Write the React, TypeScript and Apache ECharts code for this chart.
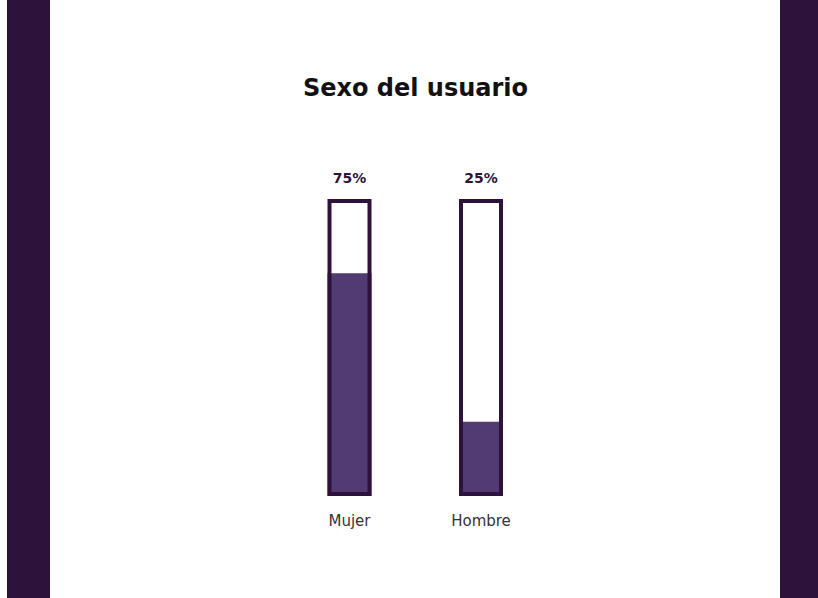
import React, { useEffect, useRef } from "react";
import * as echarts from "echarts";

const categories = ["Mujer", "Hombre"];
const values = [75, 25];
const totals = [100, 100];
const valueLabels = ["75%", "25%"];
const chartTitle = "Sexo del usuario";

const DARK = "#2d133b";
const FILL = "#523a72";

export default function App() {
  const ref = useRef<HTMLDivElement>(null);
  useEffect(() => {
    if (!ref.current) return;
    const chart = echarts.init(ref.current, null, { renderer: "svg" });
    chart.setOption({
      animation: false,
      backgroundColor: "#ffffff",
      graphic: [
        { type: "rect", shape: { x: 7, y: 0, width: 43, height: 598 }, style: { fill: DARK } },
        { type: "rect", shape: { x: 780, y: 0, width: 38, height: 598 }, style: { fill: DARK } },
        {
          type: "text",
          x: 415.5,
          y: 88,
          style: {
            text: chartTitle,
            align: "center",
            verticalAlign: "middle",
            fontFamily: "DejaVu Sans",
            fontWeight: "bold",
            fontSize: 24,
            fill: "#111111",
          },
        },
      ],
      grid: { left: 283.75, width: 263, top: 199, height: 297 },
      xAxis: {
        type: "category",
        data: categories,
        axisLine: { show: false },
        axisTick: { show: false },
        axisLabel: {
          margin: 17,
          fontFamily: "DejaVu Sans",
          fontSize: 15,
          color: "#333333",
        },
      },
      yAxis: {
        type: "value",
        min: 0,
        max: 100,
        show: false,
        splitLine: { show: false },
      },
      series: [
        {
          type: "bar",
          data: values,
          barWidth: 44,
          itemStyle: { color: FILL },
          z: 2,
        },
        {
          type: "bar",
          data: totals,
          barWidth: 44,
          barGap: "-100%",
          itemStyle: { color: "rgba(0,0,0,0)", borderColor: DARK, borderWidth: 4 },
          z: 3,
          label: {
            show: true,
            position: "top",
            distance: 14,
            formatter: (p: any) => valueLabels[p.dataIndex],
            fontFamily: "DejaVu Sans",
            fontWeight: "bold",
            fontSize: 14,
            color: DARK,
          },
        },
      ],
    });
    return () => chart.dispose();
  }, []);
  return (
    <div
      ref={ref}
      style={{ position: "fixed", left: 0, top: 0, width: 818, height: 598 }}
    />
  );
}
